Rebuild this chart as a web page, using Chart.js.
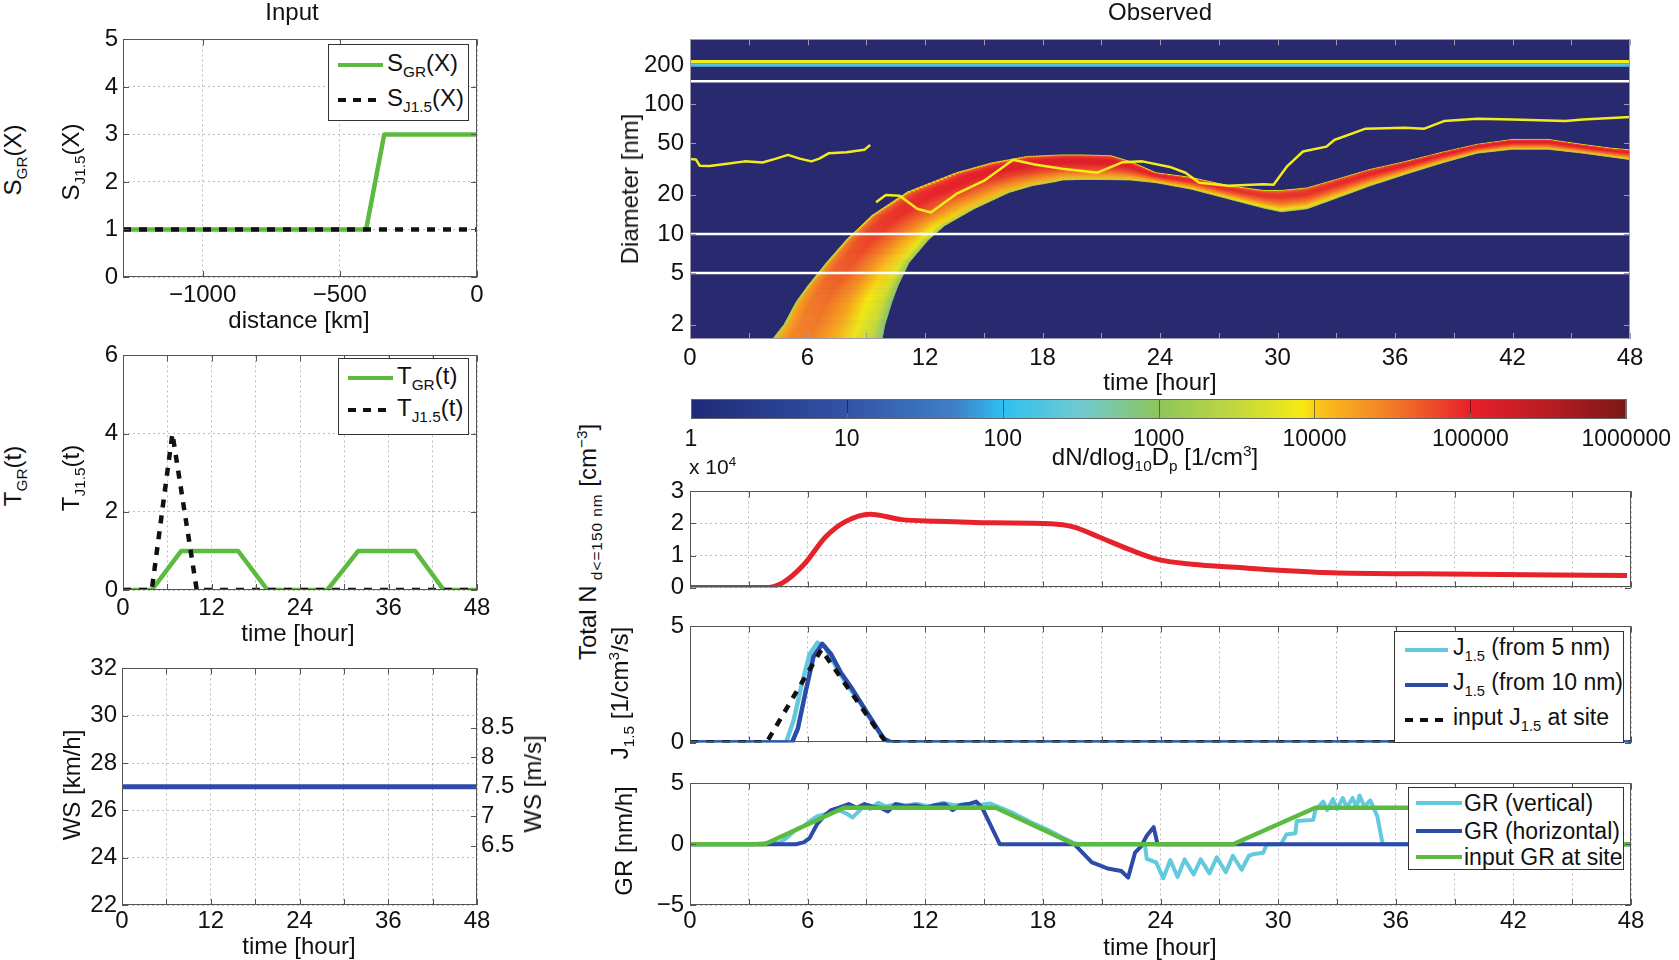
<!DOCTYPE html>
<html>
<head>
<meta charset="utf-8">
<script src="https://cdn.jsdelivr.net/npm/chart.js@4.4.0/dist/chart.umd.min.js"></script>
<style>
html,body{margin:0;padding:0;background:#fff;overflow:hidden;}
#fig{position:relative;width:1679px;height:960px;overflow:hidden;font-family:"Liberation Sans",Arial,Helvetica,sans-serif;color:#111;}
canvas{position:absolute;}
.t{position:absolute;white-space:nowrap;font-size:24px;line-height:1;transform:translate(-50%,-50%);z-index:3;}
.v{transform:translate(-50%,-50%) rotate(-90deg);}
.sb{font-size:0.64em;vertical-align:-0.38em;}
.sp{font-size:0.64em;vertical-align:0.62em;}
.leg{position:absolute;background:#fff;border:1px solid #333;z-index:5;box-sizing:border-box;}
.lg{position:absolute;z-index:6;}
</style>
</head>
<body>
<div id="fig"></div>
<script>
// ---- Input panels ----
const distKm = [-1290, -404, -338, 0];
const sGR = [1, 1, 3, 3];
const sJ = [1, 1, 1, 1];

const tInGR = [0, 3.9, 7.9, 15.6, 19.6, 27.7, 31.9, 39.6, 43.5, 48];
const vInGR = [0, 0, 1, 1, 0, 0, 1, 1, 0, 0];
const tInJ = [0, 3.9, 6.7, 10, 48];
const vInJ = [0, 0, 4, 0, 0];

const wsTime = [0, 48];
const wsKmh = [27, 27];

// ---- Observed: banana (cross sections: upper/left edge -> lower/right edge) ----
const secT1 = [4.0, 4.8, 5.43, 6.03, 6.97, 7.99, 9.3, 11.1, 13.6, 15.4, 17.2, 19, 20, 21.5, 22.5, 23.8, 25.6, 27.5, 29.3, 30.2, 31.5, 32.9, 34.7, 36.5, 38.4, 40.2, 42, 43.8, 45.6, 47.1, 48.2];
const secD1 = [1.4, 2.0, 3.0, 4.0, 6.0, 9.0, 13.9, 21, 29.6, 35.2, 39.5, 40.6, 40.6, 40.0, 36.0, 29.6, 27.2, 23.5, 21.6, 21.6, 22.6, 26.0, 31.3, 36.0, 42.5, 49.0, 53.4, 53.5, 48.8, 45.6, 44.2];
const secT2 = [9.75, 9.95, 10.31, 10.62, 11.18, 12.17, 13.0, 14.5, 16.3, 17.5, 18.6, 19, 20, 21.5, 22.5, 23.8, 25.6, 27.5, 29.3, 30.2, 31.5, 32.9, 34.7, 36.5, 38.4, 40.2, 42, 43.8, 45.6, 47.1, 48.2];
const secD2 = [1.4, 2.0, 3.0, 4.0, 6.0, 9.0, 11.6, 15.6, 20.9, 23.6, 25.2, 26.0, 26.3, 26.2, 26.0, 24.8, 22.1, 18.6, 15.8, 14.8, 15.6, 18.6, 23.4, 28.7, 35.2, 41.9, 44.9, 44.9, 41.9, 39.0, 37.0];
const secPeak = [4.45, 4.5, 4.55, 4.62, 4.7, 4.8, 4.9, 4.98, 5.05, 5.08, 5.1, 5.1, 5.1, 5.1, 5.05, 5.0, 4.97, 4.93, 4.9, 4.9, 4.92, 4.95, 4.98, 5.0, 5.02, 5.03, 5.05, 5.05, 5.03, 5.0, 5.0];

const mode1T = [0, 0.3, 0.5, 1, 1.8, 2.8, 3.7, 4.4, 5, 5.6, 6.2, 6.6, 7.1, 8, 8.9, 9.2];
const mode1D = [37.8, 37.5, 33.5, 33.3, 34.5, 36.2, 35.5, 38, 40.6, 38, 36.2, 38, 41.9, 42.5, 44.4, 48.4];
const mode2T = [9.5, 10, 10.7, 11.6, 12.3, 13.6, 15, 16.5, 17.6, 19, 20.8, 22.1, 23.1, 24.5, 25.3, 26, 27.5, 29.3, 29.8, 30.5, 31.3, 32.5, 32.9, 34.5, 36.5, 37.5, 38.5, 40.2, 42, 44.7, 45.6, 48];
const mode2D = [17.5, 19.9, 19.7, 15.6, 14.6, 20.3, 25.6, 37.3, 34.2, 31.8, 29.6, 35.7, 36.2, 32.8, 29.6, 24.8, 23.5, 24.1, 23.9, 33.3, 43.1, 47, 52.9, 64.7, 65.7, 64.7, 74, 77, 76, 74, 76, 79.4];
const guideDiam = [150, 10, 5];
const bandDiam = [212, 199];

const colorTicks = [1, 10, 100, 1000, 10000, 100000, 1000000];

// ---- Total N (x 10^4) ----
const nTime = [0, 3.8, 4.7, 5.8, 6.9, 7.9, 9.2, 10.8, 12.6, 15.5, 18.4, 19.5, 20.9, 22.4, 23.8, 25.6, 28.2, 30, 32.8, 37.2, 47.8];
const nVal = [0, 0, 0.14, 0.71, 1.57, 2.05, 2.29, 2.12, 2.07, 2.02, 1.99, 1.9, 1.57, 1.19, 0.89, 0.73, 0.62, 0.54, 0.46, 0.43, 0.38];

// ---- J1.5 ----
const j5T = [0, 4.9, 5.3, 5.7, 6.1, 6.5, 6.9, 7.5, 8.0, 8.7, 9.3, 9.8, 10.2, 48];
const j5V = [0, 0, 1.0, 2.5, 3.8, 4.3, 4.1, 3.2, 2.5, 1.7, 0.9, 0.25, 0, 0];
const j10T = [0, 5.2, 5.5, 5.9, 6.3, 6.75, 7.2, 7.7, 8.2, 8.8, 9.4, 9.9, 10.3, 48];
const j10V = [0, 0, 0.6, 2.2, 3.7, 4.25, 3.8, 3.0, 2.4, 1.6, 0.8, 0.15, 0, 0];
const jSiteT = [0, 3.9, 6.7, 10, 48];
const jSiteV = [0, 0, 4, 0, 0];

// ---- GR ----
const grVT = [0, 3.2, 3.9, 4.6, 5.0, 5.4, 5.8, 6.2, 6.5, 7.0, 7.6, 8.0, 8.3, 8.85, 9.2, 9.6, 10.0, 10.5, 11.0, 11.6, 12.2, 12.9, 13.5, 14.1, 14.7, 15.3, 15.7, 16.5, 17.4, 18.3, 19.0, 19.5, 19.8, 23.2, 23.3, 23.78, 24.14, 24.5, 24.87, 25.23, 25.69, 26.05, 26.5, 26.87, 27.33, 27.69, 28.14, 28.51, 28.78, 29.24, 29.42, 30.15, 30.42, 30.88, 30.95, 31.79, 31.9, 32.3, 32.5, 32.8, 33.0, 33.3, 33.5, 33.8, 34.0, 34.15, 34.4, 34.7, 35.06, 35.33, 48];
const grVV = [0, 0, 0.1, 0.15, 0.6, 1.2, 1.5, 2.0, 2.3, 2.5, 2.8, 2.5, 2.2, 3.1, 2.9, 3.4, 3.1, 3.3, 3.2, 3.3, 3.1, 3.4, 3.2, 3.3, 3.2, 3.35, 3.1, 2.55, 1.8, 1.15, 0.55, 0.15, 0, 0, -1.2, -1.5, -2.8, -1.3, -2.7, -1.25, -2.5, -1.25, -2.4, -1.07, -2.3, -0.95, -2.1, -0.95, -0.8, -0.7, 0, 0, 0.8, 0.9, 1.9, 2.0, 2.8, 3.5, 2.8, 3.7, 2.9, 3.8, 3.0, 3.8, 3.0, 4.0, 3.1, 3.6, 2.3, 0, 0];
const grHT = [0, 5.4, 5.8, 6.1, 6.5, 6.9, 7.2, 7.6, 8.1, 8.5, 8.9, 9.3, 9.7, 10.1, 10.5, 11.0, 11.5, 12.0, 12.5, 13.0, 13.4, 13.8, 14.2, 14.6, 14.9, 15.8, 19.6, 20.5, 21.0, 21.3, 22.0, 22.35, 22.7, 23.0, 23.3, 23.65, 23.85, 48];
const grHV = [0, 0, 0.15, 0.5, 1.7, 2.4, 2.8, 3.0, 3.3, 3.0, 3.3, 3.1, 3.0, 2.7, 3.3, 3.1, 3.2, 3.0, 3.2, 3.3, 2.8, 3.2, 3.3, 3.5, 3.0, 0, 0, -1.5, -1.8, -2.0, -2.2, -2.75, -0.7, -0.2, 0.7, 1.4, 0, 0];
const grSiteT = [0, 3.8, 7.85, 15.6, 19.6, 27.7, 31.9, 40, 44, 48];
const grSiteV = [0, 0, 3, 3, 0, 0, 3, 3, 0, 0];

const every6 = [0, 6, 12, 18, 24, 30, 36, 42, 48];
const every3 = [0, 3, 6, 9, 12, 15, 18, 21, 24, 27, 30, 33, 36, 39, 42, 45, 48];

// colours
const GREEN = '#5cbb3f', BLACK = '#111', CYAN = '#63c9df', BLUE = '#2c4ba8', RED = '#e6232a', YEL = '#f3ec1c', NAVY = '#29296f';
const GRIDC = '#bdbdbd';
const cmapStops = [[0, '#1f2a78'], [1, '#3253a6'], [1.7, '#3f80c8'], [2, '#2fc0f0'], [2.5, '#70cad0'], [3, '#8dc55c'], [3.5, '#c2d83e'], [3.92, '#f6ea12'], [4.05, '#fbbe1a'], [4.5, '#f27a28'], [5, '#e8202a'], [5.5, '#b81c22'], [6, '#7a1818']];
// concentration profile across the band (fraction of width -> offset from the peak, log10)
const profPos = [0, 0.04, 0.15, 0.32, 0.55, 0.74, 0.9, 1];
const profOff = [-1.1, -0.3, -0.05, 0, -0.3, -0.65, -0.95, -1.6];

function hex(c) { return [1, 3, 5].map(i => parseInt(c.substr(i, 2), 16)); }
function cmap(v) {
  v = Math.max(0, Math.min(6, v));
  for (let i = 0; i < cmapStops.length - 1; i++) {
    const [a, ca] = cmapStops[i], [b, cb] = cmapStops[i + 1];
    if (v <= b) {
      const f = (v - a) / (b - a), A = hex(ca), B = hex(cb);
      return 'rgb(' + A.map((x, k) => Math.round(x + (B[k] - x) * f)).join(',') + ')';
    }
  }
  return cmapStops[cmapStops.length - 1][1];
}

Chart.defaults.font.family = '"Liberation Sans", Arial, Helvetica, sans-serif';
Chart.defaults.font.size = 24;
Chart.defaults.color = '#111';
Chart.defaults.animation = false;
Chart.defaults.events = [];
Chart.defaults.plugins.legend.display = false;
Chart.defaults.plugins.tooltip.enabled = false;
Chart.defaults.elements.point.radius = 0;
Chart.defaults.elements.line.tension = 0;

const fig = document.getElementById('fig');
const minus = v => (v < 0 ? '\u2212' + Math.abs(v) : String(v));

// box + inward ticks like the original axes
const framePlugin = {
  id: 'frame',
  afterDatasetsDraw(chart, args, o) {
    const { ctx, chartArea: a, scales } = chart;
    const L = 6;
    ctx.save();
    ctx.strokeStyle = o.color || '#555';
    ctx.lineWidth = 1;
    ctx.beginPath();
    const xs = scales.x;
    xs.ticks.forEach(t => {
      const p = Math.round(xs.getPixelForValue(t.value)) + 0.5;
      ctx.moveTo(p, a.bottom); ctx.lineTo(p, a.bottom - L);
      if (!o.noTop) { ctx.moveTo(p, a.top); ctx.lineTo(p, a.top + L); }
    });
    if (!o.noY) {
      const yl = scales.y, yr = scales[o.right || 'y'];
      yl.ticks.forEach(t => { const p = Math.round(yl.getPixelForValue(t.value)) + 0.5; ctx.moveTo(a.left, p); ctx.lineTo(a.left + L, p); });
      yr.ticks.forEach(t => { const p = Math.round(yr.getPixelForValue(t.value)) + 0.5; ctx.moveTo(a.right, p); ctx.lineTo(a.right - L, p); });
    }
    ctx.stroke();
    ctx.strokeRect(Math.round(a.left) + 0.5, Math.round(a.top) + 0.5, Math.round(a.right - a.left) - 1, Math.round(a.bottom - a.top) - 1);
    ctx.restore();
  }
};

// banana shaped size distribution drawn from the cross sections (thin slices between them)
const bananaPlugin = {
  id: 'banana',
  beforeDatasetsDraw(chart) {
    const { ctx, chartArea: a, scales: { x, y } } = chart;
    ctx.save();
    ctx.beginPath(); ctx.rect(a.left, a.top, a.right - a.left, a.bottom - a.top); ctx.clip();
    ctx.fillStyle = NAVY;
    ctx.fillRect(a.left, a.top, a.right - a.left, a.bottom - a.top);
    const P = (t, d) => [x.getPixelForValue(t), y.getPixelForValue(d)];
    const lerp = (p, q, f) => [p[0] + (q[0] - p[0]) * f, p[1] + (q[1] - p[1]) * f];
    const SUB = 12;
    for (let i = 0; i < secT1.length - 1; i++) {
      const A0 = P(secT1[i], secD1[i]), B0 = P(secT2[i], secD2[i]);
      const A1 = P(secT1[i + 1], secD1[i + 1]), B1 = P(secT2[i + 1], secD2[i + 1]);
      for (let s = 0; s < SUB; s++) {
        const f0 = s / SUB, f1 = (s + 1) / SUB, fm = (f0 + f1) / 2;
        const a0 = lerp(A0, A1, f0), a1 = lerp(A0, A1, f1), b0 = lerp(B0, B1, f0), b1 = lerp(B0, B1, f1);
        const am = lerp(A0, A1, fm), bm = lerp(B0, B1, fm);
        const g = ctx.createLinearGradient(am[0], am[1], bm[0], bm[1]);
        const pk = secPeak[i] + (secPeak[i + 1] - secPeak[i]) * fm;
        profPos.forEach((f, k) => g.addColorStop(f, cmap(pk + profOff[k])));
        ctx.fillStyle = g; ctx.strokeStyle = g; ctx.lineWidth = 0.8;
        ctx.beginPath();
        ctx.moveTo(a0[0], a0[1]); ctx.lineTo(a1[0], a1[1]); ctx.lineTo(b1[0], b1[1]); ctx.lineTo(b0[0], b0[1]);
        ctx.closePath(); ctx.fill(); ctx.stroke();
      }
    }
    ctx.restore();
  }
};

const colorbarPlugin = {
  id: 'cbar',
  afterDatasetsDraw(chart) {
    const { ctx, chartArea: a, scales: { x } } = chart;
    const g = ctx.createLinearGradient(a.left, 0, a.right, 0);
    cmapStops.forEach(([v, c]) => g.addColorStop((x.getPixelForValue(Math.pow(10, v)) - a.left) / (a.right - a.left), c));
    ctx.save();
    ctx.fillStyle = g;
    ctx.fillRect(a.left, a.top, a.right - a.left, a.bottom - a.top);
    ctx.strokeStyle = 'rgba(0,0,0,0.45)'; ctx.lineWidth = 1;
    ctx.beginPath();
    colorTicks.forEach(v => { const p = Math.round(x.getPixelForValue(v)) + 0.5; ctx.moveTo(p, a.top); ctx.lineTo(p, a.bottom); });
    ctx.stroke();
    ctx.restore();
  }
};

const pts = (xs, ys) => xs.map((v, i) => ({ x: v, y: ys[i] }));
function line(xs, ys, color, width, extra) {
  return Object.assign({ data: pts(xs, ys), borderColor: color, borderWidth: width, pointRadius: 0, fill: false, borderJoinStyle: 'round' }, extra || {});
}
function axis(type, min, max, tickVals, labelFn, opts) {
  opts = opts || {};
  return {
    type, min, max,
    display: true,
    position: opts.position,
    afterBuildTicks: s => { s.ticks = tickVals.map(v => ({ value: v })); },
    ticks: { autoSkip: false, maxRotation: 0, padding: opts.pad ?? 4, callback: labelFn, font: opts.font },
    grid: { display: opts.grid !== false, color: GRIDC, drawTicks: false, lineWidth: 1 },
    border: { display: false, dash: [2, 3] }
  };
}
function makeChart(area, m, config) {
  const c = document.createElement('canvas');
  const w = area.r - area.l + m.l + m.r, h = area.b - area.t + m.t + m.b;
  c.width = w; c.height = h;
  Object.assign(c.style, { left: (area.l - m.l) + 'px', top: (area.t - m.t) + 'px', width: w + 'px', height: h + 'px' });
  fig.appendChild(c);
  const sc = config.options.scales;
  sc.x.afterFit = s => { s.height = m.b; };
  const hasY = sc.y.display !== false;
  if (hasY) sc.y.afterFit = s => { s.width = m.l; };
  if (sc.y2) sc.y2.afterFit = s => { s.width = m.r; };
  config.options.layout = { padding: { top: m.t, right: sc.y2 ? 0 : m.r, left: hasY ? 0 : m.l, bottom: 0 } };
  config.options.responsive = false;
  config.options.maintainAspectRatio = false;
  return new Chart(c, config);
}
function txt(html, x, y, o) {
  o = o || {};
  const d = document.createElement('div');
  d.className = 't' + (o.v ? ' v' : '');
  d.innerHTML = html;
  d.style.left = x + 'px'; d.style.top = y + 'px';
  if (o.size) d.style.fontSize = o.size + 'px';
  if (o.left) d.style.transform = 'translate(0,-50%)';
  if (o.z) d.style.zIndex = o.z;
  fig.appendChild(d);
}
function legend(box, rows, size) {
  const d = document.createElement('div');
  d.className = 'leg';
  Object.assign(d.style, { left: box.l + 'px', top: box.t + 'px', width: (box.r - box.l) + 'px', height: (box.b - box.t) + 'px' });
  fig.appendChild(d);
  rows.forEach(r => {
    const s = document.createElement('div');
    s.className = 'lg';
    const bg = r.dash ? `repeating-linear-gradient(90deg, ${r.color} 0 8px, transparent 8px 15px)` : r.color;
    Object.assign(s.style, { left: r.x0 + 'px', top: (r.y - 2) + 'px', width: (r.x1 - r.x0) + 'px', height: '4px', background: bg });
    fig.appendChild(s);
    txt(r.html, r.tx, r.y, { left: true, size, z: 6 });
  });
}

const lab12 = v => (v % 12 === 0 ? String(v) : '');
const lab6 = v => (v % 6 === 0 ? String(v) : '');
const none = () => '';

// ---- panel 1: S(X) ----
makeChart({ l: 123, t: 36, r: 477, b: 277 }, { l: 50, t: 16, r: 30, b: 34 }, {
  type: 'line',
  data: { datasets: [
    line([distKm[0], distKm[3]], [sJ[0], sJ[3]], BLACK, 4.5, { borderDash: [8, 8] }),
    line(distKm, sGR, GREEN, 4.5)
  ] },
  options: {
    scales: {
      x: axis('linear', -1290, 0, [-1000, -500, 0], minus),
      y: axis('linear', 0, 5, [0, 1, 2, 3, 4, 5], String, { pad: 5 })
    },
    plugins: { frame: {} }
  },
  plugins: [framePlugin]
});

// ---- panel 2: T(t) ----
makeChart({ l: 123, t: 352, r: 477, b: 590 }, { l: 50, t: 16, r: 30, b: 34 }, {
  type: 'line',
  data: { datasets: [
    line(tInJ, vInJ, BLACK, 4.5, { borderDash: [8, 8] }),
    line(tInGR, vInGR, GREEN, 4.5)
  ] },
  options: {
    scales: {
      x: axis('linear', 0, 48, every6, lab12),
      y: axis('linear', 0, 6, [0, 2, 4, 6], String, { pad: 5 })
    },
    plugins: { frame: {} }
  },
  plugins: [framePlugin]
});

// ---- panel 3: wind speed ----
makeChart({ l: 122, t: 665, r: 477, b: 905 }, { l: 55, t: 16, r: 45, b: 34 }, {
  type: 'line',
  data: { datasets: [line(wsTime, wsKmh, BLUE, 5)] },
  options: {
    scales: {
      x: axis('linear', 0, 48, every6, lab12, { pad: 2 }),
      y: axis('linear', 22, 32, [22, 24, 26, 28, 30, 32], String, { pad: 5 }),
      y2: Object.assign(axis('linear', 5.5, 9.5, [6.5, 7, 7.5, 8, 8.5], String, { pad: 4, grid: false, position: 'right' }), { position: 'right' })
    },
    plugins: { frame: { right: 'y2' } }
  },
  plugins: [framePlugin]
});

// ---- heat map ----
makeChart({ l: 690, t: 35, r: 1630, b: 339 }, { l: 70, t: 16, r: 30, b: 34 }, {
  type: 'line',
  data: { datasets: [
    line(mode2T, mode2D, YEL, 2.5),
    line(mode1T, mode1D, YEL, 2.5),
    line([0, 48], [bandDiam[0], bandDiam[0]], YEL, 3.5),
    line([0, 48], [bandDiam[1], bandDiam[1]], '#5bbfe0', 3),
    line([0, 48], [guideDiam[0], guideDiam[0]], '#ffffff', 2.5),
    line([0, 48], [guideDiam[1], guideDiam[1]], '#ffffff', 2.5),
    line([0, 48], [guideDiam[2], guideDiam[2]], '#ffffff', 2.5)
  ] },
  options: {
    scales: {
      x: axis('linear', 0, 48, every3, lab6, { grid: false, pad: 5 }),
      y: axis('logarithmic', 1.55, 315, [2, 5, 10, 20, 50, 100, 200], String, { grid: false, pad: 6 })
    },
    plugins: { frame: { color: '#9a9aaa' } }
  },
  plugins: [bananaPlugin, framePlugin]
});

// ---- colour bar ----
makeChart({ l: 691, t: 399, r: 1632, b: 419 }, { l: 40, t: 5, r: 46, b: 36 }, {
  type: 'line',
  data: { datasets: [] },
  options: {
    scales: {
      x: axis('logarithmic', 1, 1000000, colorTicks, v => String(v), { grid: false, pad: 7, font: { size: 23 } }),
      y: { display: false, min: 0, max: 1 }
    },
    plugins: { frame: { color: '#666', noY: true, noTop: true } }
  },
  plugins: [colorbarPlugin, framePlugin]
});

// ---- total N ----
makeChart({ l: 690, t: 487, r: 1631, b: 592 }, { l: 60, t: 16, r: 30, b: 16 }, {
  type: 'line',
  data: { datasets: [line(nTime, nVal, RED, 5, { cubicInterpolationMode: 'monotone' })] },
  options: {
    scales: {
      x: axis('linear', 0, 48, every3, none),
      y: axis('linear', 0, 3, [0, 1, 2, 3], String, { pad: 6 })
    },
    plugins: { frame: {} }
  },
  plugins: [framePlugin]
});

// ---- J1.5 ----
makeChart({ l: 690, t: 622, r: 1631, b: 747 }, { l: 60, t: 16, r: 30, b: 16 }, {
  type: 'line',
  data: { datasets: [
    line(jSiteT, jSiteV, BLACK, 4.5, { borderDash: [8, 8] }),
    line(j10T, j10V, BLUE, 4.5),
    line(j5T, j5V, CYAN, 4.5)
  ] },
  options: {
    scales: {
      x: axis('linear', 0, 48, every3, none),
      y: axis('linear', 0, 5, [0, 5], String, { pad: 6, grid: false })
    },
    plugins: { frame: {} }
  },
  plugins: [framePlugin]
});

// ---- GR ----
makeChart({ l: 690, t: 779, r: 1631, b: 905 }, { l: 75, t: 16, r: 30, b: 34 }, {
  type: 'line',
  data: { datasets: [
    line(grSiteT, grSiteV, GREEN, 4.5),
    line(grHT, grHV, BLUE, 4),
    line(grVT, grVV, CYAN, 4)
  ] },
  options: {
    scales: {
      x: axis('linear', 0, 48, every3, lab6, { pad: 2 }),
      y: axis('linear', -5, 5, [-5, 0, 5], minus, { pad: 6 })
    },
    plugins: { frame: {} }
  },
  plugins: [framePlugin]
});

// ---- texts ----
txt('Input', 292, 12);
txt('Observed', 1160, 12);
txt('S<span class="sb">GR</span>(X)', 15, 160, { v: true });
txt('S<span class="sb">J1.5</span>(X)', 73, 162, { v: true });
txt('distance [km]', 299, 320);
txt('T<span class="sb">GR</span>(t)', 15, 476, { v: true });
txt('T<span class="sb">J1.5</span>(t)', 73, 478, { v: true });
txt('time [hour]', 298, 633);
txt('WS [km/h]', 72, 785, { v: true });
txt('WS [m/s]', 533, 784, { v: true });
txt('time [hour]', 299, 946);
txt('Diameter [nm]', 630, 189, { v: true });
txt('time [hour]', 1160, 382);
txt('dN/dlog<span class="sb">10</span>D<span class="sb">p</span> [1/cm<span class="sp">3</span>]', 1155, 458);
txt('x 10<span class="sp">4</span>', 689, 466, { left: true, size: 21 });
txt('Total N<span class="sb" style="letter-spacing:1px"> d&lt;=150 nm</span> [cm<span class="sp">\u22123</span>]', 589, 542, { v: true });
txt('J<span class="sb">1.5</span> [1/cm<span class="sp">3</span>/s]', 621, 693, { v: true });
txt('GR [nm/h]', 624, 841, { v: true });
txt('time [hour]', 1160, 947);

legend({ l: 328, t: 44, r: 469, b: 121 }, [
  { y: 65, x0: 338, x1: 383, color: GREEN, tx: 387, html: 'S<span class="sb">GR</span>(X)' },
  { y: 100, x0: 338, x1: 383, color: BLACK, dash: true, tx: 387, html: 'S<span class="sb">J1.5</span>(X)' }
], 24);
legend({ l: 338, t: 358, r: 469, b: 435 }, [
  { y: 378, x0: 348, x1: 393, color: GREEN, tx: 397, html: 'T<span class="sb">GR</span>(t)' },
  { y: 410, x0: 348, x1: 393, color: BLACK, dash: true, tx: 397, html: 'T<span class="sb">J1.5</span>(t)' }
], 24);
legend({ l: 1394, t: 631, r: 1624, b: 743 }, [
  { y: 650, x0: 1405, x1: 1448, color: CYAN, tx: 1453, html: 'J<span class="sb">1.5</span> (from 5 nm)' },
  { y: 685, x0: 1405, x1: 1448, color: BLUE, tx: 1453, html: 'J<span class="sb">1.5</span> (from 10 nm)' },
  { y: 720, x0: 1405, x1: 1448, color: BLACK, dash: true, tx: 1453, html: 'input J<span class="sb">1.5</span> at site' }
], 23);
legend({ l: 1408, t: 787, r: 1624, b: 870 }, [
  { y: 803, x0: 1416, x1: 1462, color: CYAN, tx: 1464, html: 'GR (vertical)' },
  { y: 831, x0: 1416, x1: 1462, color: BLUE, tx: 1464, html: 'GR (horizontal)' },
  { y: 857, x0: 1416, x1: 1462, color: GREEN, tx: 1464, html: 'input GR at site' }
], 23);
</script>
</body>
</html>
